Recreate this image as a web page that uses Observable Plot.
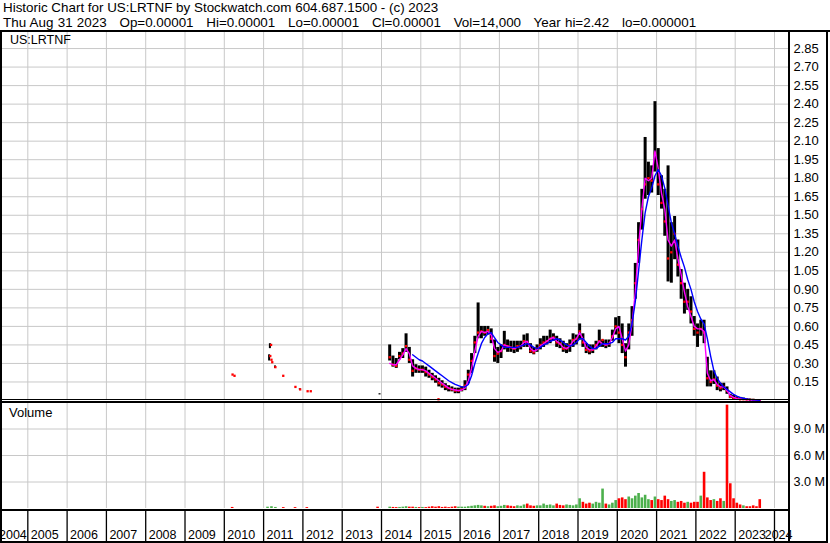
<!DOCTYPE html>
<html><head><meta charset="utf-8">
<script src="https://cdn.jsdelivr.net/npm/d3@7"></script>
<script src="https://cdn.jsdelivr.net/npm/@observablehq/plot@0.6"></script>
<style>
html,body{margin:0;padding:0;background:#fff;}
#root{position:relative;width:830px;height:543px;overflow:hidden;background:#fff;font-family:"Liberation Sans",Arial,sans-serif;color:#000;}
.hdr{position:absolute;left:3px;font-size:13.4px;line-height:15px;white-space:pre;}
.lbl{position:absolute;line-height:1;white-space:pre;}
.ln{position:absolute;background:#000;}
.pl{position:absolute;left:0;}
svg{display:block;}
</style></head><body><div id="root"></div>
<script>
// ---------- header texts ----------
const titleLine = "Historic Chart for US:LRTNF by Stockwatch.com 604.687.1500 - (c) 2023";
const infoLine = "Thu Aug 31 2023   Op=0.00001   Hi=0.00001   Lo=0.00001   Cl=0.00001   Vol=14,000   Year hi=2.42   lo=0.000001";
const symbolLabel = "US:LRTNF";
const volumeLabel = "Volume";

// ---------- axes ----------
const yearTicks = [2005,2006,2007,2008,2009,2010,2011,2012,2013,2014,2015,2016,2017,2018,2019,2020,2021,2022,2023,2024];
const yearLabels = [2004,2005,2006,2007,2008,2009,2010,2011,2012,2013,2014,2015,2016,2017,2018,2019,2020,2021,2022,2023,2024];
const priceTicks = [0.15,0.30,0.45,0.60,0.75,0.90,1.05,1.20,1.35,1.50,1.65,1.80,1.95,2.10,2.25,2.40,2.55,2.70,2.85];
const volumeTicks = [3,6,9]; // millions

// ---------- monthly series, Mar 2014 .. Aug 2023 ----------
const firstYear = 2014, firstMonth = 3;
const hi = [
 0.45,0.36,0.34,0.39,0.42,0.54,0.43,0.33,0.29,0.28,
 0.28,0.27,0.245,0.22,0.20,0.18,0.16,0.136,0.12,0.11,0.10,0.10,
 0.11,0.16,0.245,0.38,0.52,0.79,0.60,0.60,0.60,0.58,0.49,0.43,
 0.45,0.56,0.49,0.48,0.48,0.48,0.48,0.53,0.54,0.46,0.43,0.45,
 0.50,0.52,0.52,0.57,0.54,0.52,0.50,0.48,0.46,0.49,0.54,0.53,
 0.62,0.54,0.46,0.45,0.45,0.48,0.57,0.49,0.49,0.49,0.57,0.67,
 0.68,0.62,0.46,0.62,0.76,1.11,1.44,1.71,2.13,1.93,1.90,2.42,
 2.04,1.82,1.71,1.90,1.44,1.49,1.30,1.06,0.95,0.90,0.84,0.68,
 0.62,0.65,0.65,0.35,0.24,0.24,0.19,0.14,0.14,0.11,0.05,0.04,
 0.03,0.025,0.02,0.015,0.012,0.01,0.008,0.005];
const lo = [
 0.32,0.27,0.26,0.33,0.34,0.39,0.30,0.19,0.22,0.22,
 0.22,0.19,0.18,0.16,0.14,0.11,0.10,0.08,0.07,0.07,0.055,0.055,
 0.07,0.08,0.136,0.22,0.38,0.50,0.50,0.52,0.53,0.46,0.31,0.30,
 0.34,0.41,0.39,0.39,0.38,0.39,0.41,0.43,0.43,0.38,0.37,0.39,
 0.41,0.43,0.45,0.46,0.48,0.43,0.42,0.39,0.38,0.39,0.43,0.45,
 0.49,0.43,0.38,0.37,0.38,0.41,0.43,0.43,0.42,0.43,0.48,0.53,
 0.46,0.38,0.27,0.41,0.52,0.82,1.11,1.38,1.63,1.66,1.68,1.85,
 1.66,1.55,1.33,0.96,0.95,1.14,1.00,0.82,0.70,0.73,0.62,0.52,
 0.43,0.52,0.46,0.11,0.11,0.13,0.08,0.07,0.08,0.05,0.015,0.005,
 0.005,0.005,0.003,0.002,0.001,0.001,0.00001,0.00001];
const close = [
 0.35,0.29,0.28,0.36,0.38,0.44,0.33,0.24,0.26,0.25,
 0.25,0.23,0.21,0.19,0.17,0.14,0.13,0.11,0.10,0.09,0.08,0.08,
 0.09,0.12,0.21,0.32,0.47,0.55,0.56,0.55,0.57,0.50,0.36,0.38,
 0.40,0.45,0.44,0.43,0.42,0.44,0.44,0.48,0.47,0.40,0.39,0.42,
 0.45,0.47,0.48,0.50,0.51,0.47,0.46,0.42,0.42,0.45,0.49,0.50,
 0.56,0.47,0.41,0.40,0.41,0.45,0.48,0.49,0.45,0.46,0.52,0.60,
 0.55,0.45,0.35,0.55,0.65,0.95,1.30,1.55,1.75,1.80,1.78,2.00,
 1.75,1.60,1.45,1.15,1.20,1.35,1.10,0.95,0.80,0.80,0.72,0.58,
 0.55,0.58,0.55,0.18,0.15,0.17,0.12,0.10,0.11,0.08,0.03,0.02,
 0.015,0.01,0.01,0.008,0.005,0.004,0.002,0.00001];
const maFast = [
 0.30,0.29,0.29,0.33,0.37,0.42,0.38,0.28,0.26,0.25,
 0.25,0.24,0.22,0.20,0.18,0.16,0.14,0.12,0.10,0.09,0.085,0.08,
 0.085,0.10,0.16,0.26,0.40,0.52,0.56,0.55,0.56,0.53,0.42,0.39,
 0.40,0.45,0.44,0.43,0.42,0.43,0.44,0.47,0.48,0.42,0.40,0.41,
 0.44,0.46,0.48,0.50,0.51,0.48,0.46,0.43,0.42,0.44,0.48,0.50,
 0.55,0.50,0.43,0.41,0.41,0.44,0.48,0.46,0.45,0.46,0.51,0.58,
 0.60,0.50,0.40,0.45,0.62,0.88,1.25,1.55,1.80,1.78,1.80,2.02,
 1.88,1.68,1.55,1.30,1.25,1.30,1.15,1.02,0.88,0.76,0.68,0.60,
 0.58,0.58,0.56,0.22,0.16,0.17,0.13,0.11,0.11,0.08,0.04,0.025,
 0.015,0.01,0.01,0.008,0.005,0.004,0.002,0.001];
const maSlow = [
 null,null,null,null,null,null,null,0.37,0.35,0.33,
 0.32,0.30,0.28,0.26,0.24,0.22,0.20,0.18,0.16,0.145,0.13,0.12,
 0.11,0.11,0.13,0.20,0.30,0.38,0.46,0.51,0.54,0.55,0.51,0.47,
 0.45,0.43,0.43,0.43,0.43,0.43,0.44,0.45,0.46,0.45,0.43,0.42,
 0.43,0.45,0.46,0.48,0.49,0.50,0.49,0.47,0.45,0.44,0.45,0.47,
 0.50,0.50,0.47,0.44,0.42,0.42,0.44,0.46,0.46,0.46,0.47,0.50,
 0.50,0.50,0.49,0.52,0.62,0.80,1.05,1.30,1.52,1.65,1.72,1.82,
 1.87,1.82,1.72,1.58,1.44,1.35,1.25,1.16,1.08,0.98,0.90,0.80,
 0.72,0.66,0.62,0.50,0.36,0.24,0.18,0.14,0.11,0.09,0.07,0.05,
 0.035,0.025,0.018,0.012,0.008,0.005,0.003,0.002];
const volume = [ // millions of shares
 0.15,0.12,0.10,0.12,0.15,0.20,0.15,0.15,0.12,0.10,
 0.12,0.10,0.15,0.20,0.15,0.20,0.12,0.15,0.10,0.15,0.20,0.15,
 0.15,0.15,0.20,0.25,0.30,0.35,0.30,0.25,0.20,0.25,0.30,0.20,
 0.25,0.35,0.30,0.25,0.20,0.30,0.25,0.40,0.50,0.30,0.25,0.30,
 0.30,0.50,0.35,0.40,0.30,0.50,0.35,0.30,0.40,0.35,0.30,0.40,
 1.10,0.70,0.50,0.60,0.50,0.70,0.60,2.20,0.50,0.40,0.60,0.90,
 1.10,1.20,1.00,1.30,1.10,1.40,1.70,1.20,1.50,1.00,0.90,1.30,
 1.00,0.90,1.40,1.00,0.80,0.90,0.70,0.80,0.60,0.70,0.60,0.70,
 0.70,1.40,4.10,1.20,0.90,1.00,0.80,1.10,0.80,11.70,2.80,1.10,
 0.60,0.40,0.30,0.20,0.20,0.30,0.20,1.00];

// ---------- sparse early trades ----------
const earlyBarT  = [2011.14, 2011.16, 2011.29, 2011.92, 2013.95];
const earlyBarHi = [0.37, 0.46, 0.28, 0.095, 0.055];
const earlyBarLo = [0.32, 0.42, 0.26, 0.085, 0.045];
const looseDotT = [2010.21, 2010.26, 2011.19, 2011.17, 2011.20, 2011.22, 2011.30, 2011.50, 2011.81, 2011.93, 2012.12, 2012.20, 2015.45];
const looseDotP = [0.21, 0.20, 0.45, 0.36, 0.33, 0.31, 0.27, 0.20, 0.11, 0.09, 0.075, 0.075, 0.01];
const earlyVolT = [2010.20, 2011.10, 2011.20, 2011.30, 2011.50, 2011.80, 2012.10, 2013.90];
const earlyVolV = [0.12, 0.15, 0.20, 0.12, 0.10, 0.10, 0.10, 0.15];
const earlyVolUp = [false, true, true, true, false, false, false, false];

// ---------- build tables ----------
const monthly = hi.map((h, i) => {
  const m = firstMonth - 1 + i;
  const t = firstYear + Math.floor(m / 12) + ((m % 12) + 0.5) / 12;
  return {t, hi: h, lo: lo[i], close: close[i], fast: maFast[i], slow: maSlow[i], vol: volume[i],
          up: i === 0 ? true : close[i] >= close[i - 1]};
});
const earlyBars = earlyBarT.map((t, i) => ({t, hi: earlyBarHi[i], lo: earlyBarLo[i]}));
const looseDots = looseDotT.map((t, i) => ({t, p: looseDotP[i]}));
const vols = earlyVolT.map((t, i) => ({t, vol: earlyVolV[i], up: earlyVolUp[i]}))
  .concat(monthly.map(d => ({t: d.t, vol: d.vol, up: d.up})));

const X0 = 2004.305, X1 = 2024.382;
const W = 830, MR = 41;
const GRID = "#c8c8c8", RED = "#ff0000", GREEN = "#4cb04c";
const font = {fontFamily: "'Liberation Sans', Arial, sans-serif", fontSize: "13px", background: "transparent", color: "#000", overflow: "visible"};

const root = document.getElementById("root");
function place(el, top) { el.classList.add("pl"); el.style.top = top + "px"; root.appendChild(el); }

// price panel
const price = Plot.plot({
  width: W, height: 368, marginLeft: 0, marginRight: MR, marginTop: 0, marginBottom: 0,
  style: font,
  x: {type: "linear", domain: [X0, X1], axis: null},
  y: {domain: [0, 2.98], axis: null},
  marks: [
    Plot.ruleX(yearTicks, {stroke: GRID, strokeWidth: 1}),
    Plot.ruleY(priceTicks, {stroke: GRID, strokeWidth: 1}),
    Plot.axisY(priceTicks, {anchor: "right", label: null, tickSize: 0, tickPadding: 4, tickFormat: d => d.toFixed(2), fontSize: 13, fill: "#000"}),
    Plot.ruleX(monthly, {x: "t", y1: "lo", y2: "hi", stroke: "#000", strokeWidth: 3}),
    Plot.ruleX(earlyBars, {x: "t", y1: "lo", y2: "hi", stroke: "#000", strokeWidth: 2}),
    Plot.dot(monthly, {x: "t", y: "close", r: 1.3, symbol: "square", fill: RED, stroke: null}),
    Plot.dot(looseDots, {x: "t", y: "p", r: 1.3, symbol: "square", fill: RED, stroke: null}),
    Plot.line(monthly, {x: "t", y: "fast", stroke: "#ff00ff", strokeWidth: 1.4}),
    Plot.line(monthly.filter(d => d.slow != null), {x: "t", y: "slow", stroke: "#0000ff", strokeWidth: 1.4})
  ]
});
place(price, 32);

// volume panel
const vol = Plot.plot({
  width: W, height: 106, marginLeft: 0, marginRight: MR, marginTop: 0, marginBottom: 0,
  style: font,
  x: {type: "linear", domain: [X0, X1], axis: null},
  y: {domain: [0, 12], axis: null},
  marks: [
    Plot.ruleX(yearTicks, {stroke: GRID, strokeWidth: 1}),
    Plot.ruleY(volumeTicks, {stroke: GRID, strokeWidth: 1}),
    Plot.axisY(volumeTicks, {anchor: "right", label: null, tickSize: 0, tickPadding: 4, tickFormat: d => d.toFixed(1) + " M", fontSize: 12.6, fill: "#000"}),
    Plot.ruleX(vols, {x: "t", y1: 0, y2: "vol", stroke: d => d.up ? GREEN : RED, strokeWidth: 2.6})
  ]
});
place(vol, 402);

// year band
const band = Plot.plot({
  width: W, height: 31, marginLeft: 0, marginRight: MR, marginTop: 0, marginBottom: 0,
  style: font,
  x: {type: "linear", domain: [X0, X1], axis: null},
  y: {domain: [0, 1], axis: null},
  marks: [
    Plot.ruleX(yearTicks, {stroke: "#000", strokeWidth: 1.3}),
    Plot.text(yearLabels.filter(y => y > 2004 && y < 2024), {x: d => d, y: 0, text: d => String(d), textAnchor: "start", dx: 3, dy: -3, lineAnchor: "bottom", fontSize: 12.5, fill: "#000"}),
    Plot.text([2004], {x: 2005, y: 0, text: d => String(d), textAnchor: "end", dx: -1, dy: -3, lineAnchor: "bottom", fontSize: 12.5, fill: "#000"}),
    Plot.text([2024], {x: X1, y: 0, text: d => String(d), textAnchor: "end", dx: 3, dy: -3, lineAnchor: "bottom", fontSize: 12.5, fill: "#000"})
  ]
});
place(band, 510);

// texts
function addText(cls, txt, left, top, size, extra) {
  const d = document.createElement("div");
  d.className = cls; d.textContent = txt;
  if (left != null) d.style.left = left + "px";
  d.style.top = top + "px";
  if (size) d.style.fontSize = size + "px";
  if (extra) Object.assign(d.style, extra);
  root.appendChild(d);
}
addText("hdr", titleLine, null, 0);
addText("hdr", infoLine, null, 15, null, {wordSpacing: "0.55px"});
addText("lbl", symbolLabel, 10, 34, 12.5);
addText("lbl", volumeLabel, 9, 406, 13);

// frame lines
function line(l, t, w, h) { const d = document.createElement("div"); d.className = "ln"; Object.assign(d.style, {left: l + "px", top: t + "px", width: w + "px", height: h + "px"}); root.appendChild(d); }
line(0, 30, 830, 2);     // under header
line(0, 31, 2, 512);     // left border
line(826, 31, 2, 512);   // right border
line(788, 31, 2, 512);   // axis separator
line(0, 399, 789, 1);    // price bottom double line
line(0, 401, 789, 2);
line(0, 509, 789, 2);    // volume bottom
line(0, 541, 828, 2);    // bottom border
</script></body></html>
